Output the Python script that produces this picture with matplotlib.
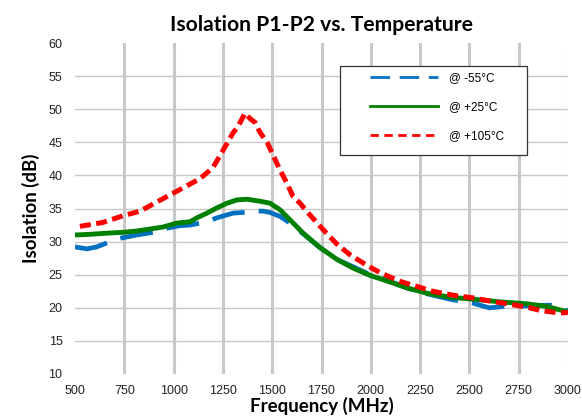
import matplotlib
matplotlib.use('Agg')
import matplotlib.pyplot as plt
from matplotlib.lines import Line2D
from matplotlib.patches import Rectangle

# -55 C
freq_m55 = [500, 561, 610, 662, 728, 814, 896, 946, 1032, 1083, 1169, 1220, 1301, 1350,
            1398, 1453, 1489, 1540, 1600, 1656, 1742, 1829, 1910, 1996, 2097, 2184, 2250,
            2315, 2417, 2518, 2600, 2640, 2700, 2823, 2909, 2975, 3000]
iso_m55 = [29.2, 28.9, 29.2, 29.8, 30.5, 31.0, 31.4, 31.9, 32.4, 32.5, 33.0, 33.6, 34.3, 34.4,
           34.6, 34.6, 34.4, 33.8, 32.6, 31.2, 29.1, 27.3, 26.2, 25.0, 24.0, 23.0, 22.4,
           21.9, 21.2, 20.7, 20.0, 20.1, 20.3, 20.3, 20.4, 19.8, 19.5]

# +25 C
freq_p25 = [500, 576, 677, 743, 814, 880, 946, 1017, 1083, 1119, 1169, 1220, 1271, 1321,
            1372, 1438, 1489, 1540, 1590, 1656, 1742, 1829, 1910, 1996, 2097, 2184, 2285,
            2402, 2518, 2655, 2792, 2894, 2995]
iso_p25 = [31.0, 31.1, 31.3, 31.4, 31.6, 31.9, 32.2, 32.8, 33.0, 33.6, 34.3, 35.1, 35.8, 36.3,
           36.4, 36.1, 35.8, 34.8, 33.3, 31.3, 29.1, 27.3, 26.0, 24.9, 23.9, 23.0, 22.2,
           21.6, 21.3, 20.9, 20.6, 20.2, 19.4]

# +105 C
freq_p105 = [525, 642, 743, 830, 916, 997, 1134, 1200, 1251, 1301, 1327, 1362, 1387, 1413,
             1438, 1474, 1499, 1540, 1575, 1606, 1641, 1692, 1768, 1829, 1895, 1981, 2047,
             2148, 2214, 2315, 2417, 2518, 2589, 2691, 2792, 2858, 2959, 3000]
iso_p105 = [32.3, 32.9, 33.9, 34.6, 36.0, 37.3, 39.5, 41.2, 43.8, 46.4, 47.4, 49.4, 48.6, 48.0,
            46.5, 45.0, 43.4, 40.8, 38.8, 36.8, 35.8, 34.0, 31.5, 29.6, 28.0, 26.4, 25.3,
            24.0, 23.4, 22.5, 21.9, 21.5, 21.1, 20.6, 20.1, 19.6, 19.2, 19.3]

labels = ['@ -55°C', '@ +25°C', '@ +105°C']
x_ticks = list(range(500, 3001, 250))
y_ticks = list(range(10, 61, 5))

BLUE = '#0070C0'
GREEN = '#008000'
RED = '#FF0000'
GRID = '#C8C8C8'

fig = plt.figure(figsize=(5.82, 4.16), dpi=100)
ax = fig.add_axes([75 / 582, 1 - 374 / 416, 493 / 582, 331 / 416])

blue_ls = (0, (7, 3))
red_ls = (0, (2.2, 1.1))
ax.plot(freq_m55, iso_m55, color=BLUE, lw=3.4, linestyle=blue_ls, zorder=3)
ax.plot(freq_p25, iso_p25, color=GREEN, lw=3.5, zorder=4)
ax.plot(freq_p105, iso_p105, color=RED, lw=3.6, linestyle=red_ls, zorder=5)

ax.set_xlim(500, 3000)
ax.set_ylim(10, 60)
ax.set_xticks(x_ticks)
ax.set_yticks(y_ticks)
for s in ax.spines.values():
    s.set_visible(False)
ax.tick_params(length=0, labelsize=9, labelcolor='#222222')
ax.tick_params(axis='x', pad=8)
ax.tick_params(axis='y', pad=9)
for lbl in ax.get_xticklabels() + ax.get_yticklabels():
    lbl.set_family('Liberation Sans')

# grid: thick vertical, thin horizontal, none at the axis ends
for f in x_ticks[1:-1]:
    ax.axvline(f, color=GRID, lw=2.2, zorder=1)
ax.axvline(3000, color='#E4E4E4', lw=0.8, zorder=1)
for v in y_ticks[1:-1]:
    ax.axhline(v, color=GRID, lw=1.0, zorder=1)

ax.set_title('Isolation P1-P2 vs. Temperature', family='Lato', fontweight='bold',
             fontsize=15.2, pad=9)
ax.set_xlabel('Frequency (MHz)', family='Lato', fontweight='bold', fontsize=13.5, labelpad=0)
ax.set_ylabel('Isolation (dB)', family='Lato', fontweight='bold', fontsize=13.5, labelpad=6)

# legend with its own frame
ax.add_patch(Rectangle((0.5375, 0.662), 0.3795, 0.269, transform=ax.transAxes,
                       facecolor='white', edgecolor='#333333', lw=0.9, zorder=6))
handles = [Line2D([], [], color=BLUE, lw=2.0, linestyle=(0, (7, 3.5))),
           Line2D([], [], color=GREEN, lw=2.0),
           Line2D([], [], color=RED, lw=2.0, linestyle=(0, (3, 2)))]
leg = ax.legend(handles, labels, loc='upper left', bbox_to_anchor=(0.598, 0.912),
                frameon=False, handlelength=5.8, handletextpad=0.9,
                labelspacing=1.45, borderpad=0, borderaxespad=0,
                prop={'family': 'Liberation Sans', 'size': 8.5})
leg.set_zorder(7)

fig.savefig('out.png', dpi=100, facecolor='white')
